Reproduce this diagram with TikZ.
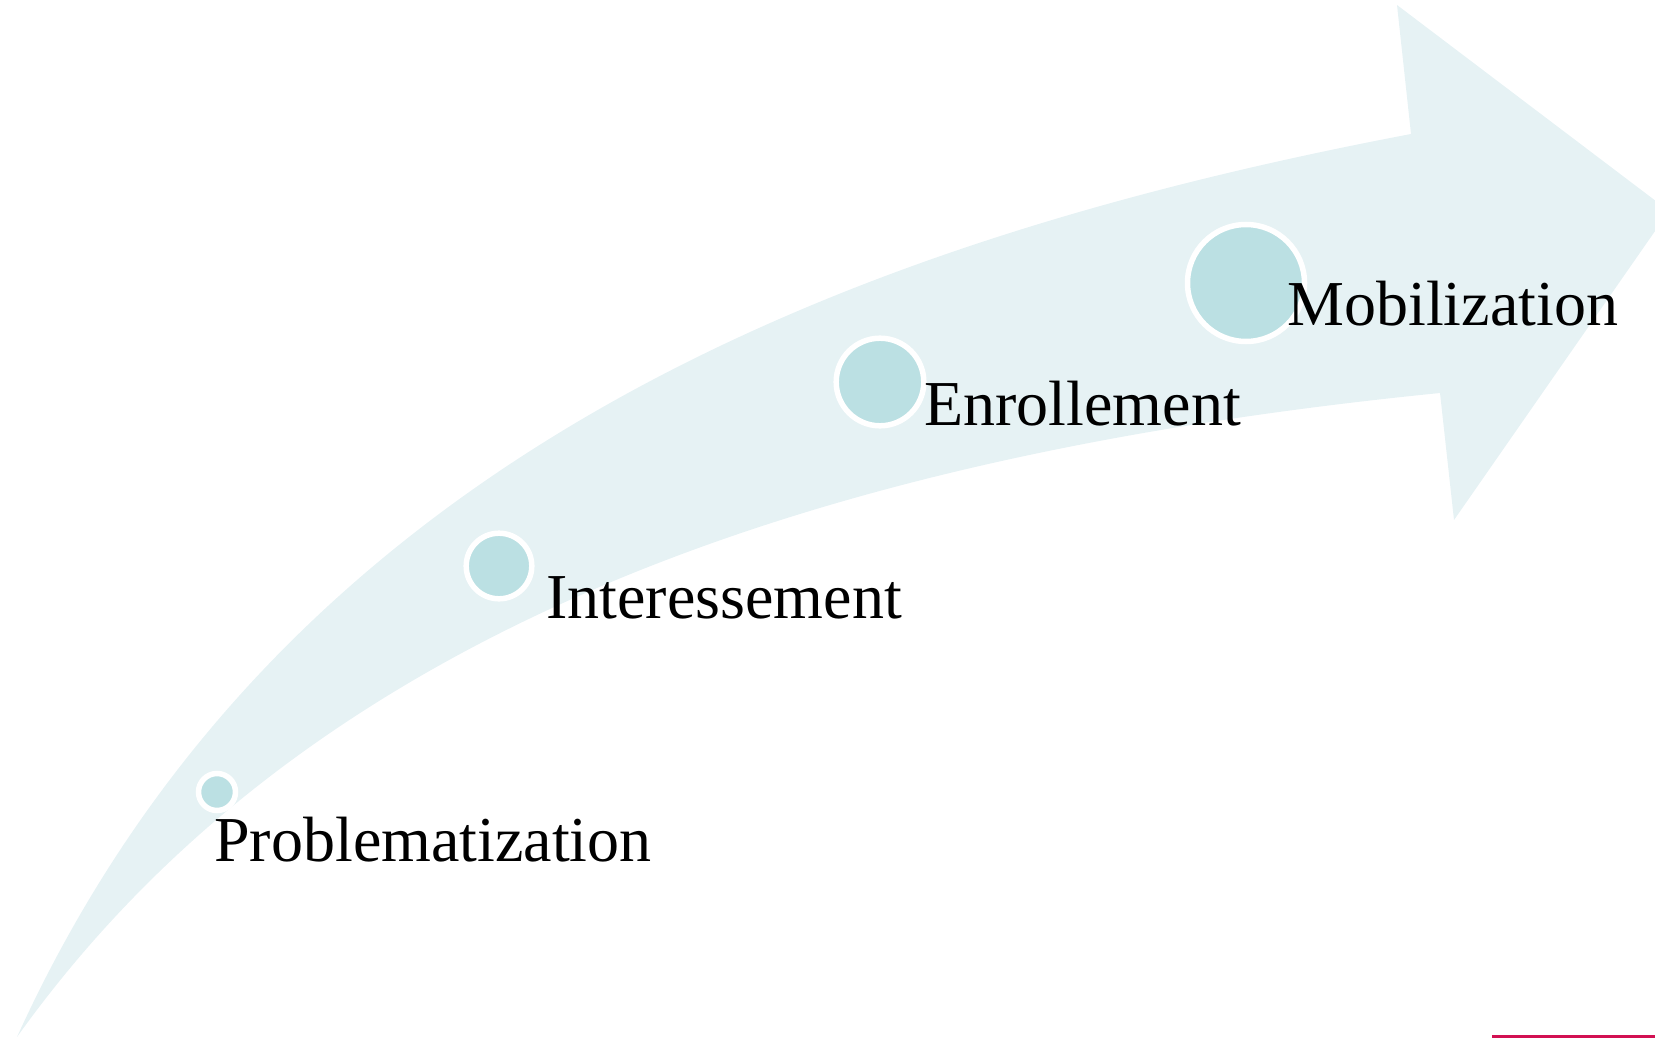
\documentclass[tikz,border=0pt]{standalone}
\usepackage{fontspec}
\setmainfont{Liberation Serif}
\definecolor{arrowfill}{RGB}{230,242,244}
\definecolor{dotfill}{RGB}{187,224,227}
\definecolor{accent}{RGB}{210,16,82}
\begin{document}
\begin{tikzpicture}[x=0.5pt,y=-0.5pt,
  dot/.style={circle, fill=dotfill, draw=white, line width=2.75pt, inner sep=0pt},
  steplabel/.style={anchor=base west, inner sep=0pt, font=\fontsize{32}{38}\selectfont}]
\useasboundingbox (0,0) rectangle (1655,1038);
\begin{scope}
\clip (0,0) rectangle (1655,1038);
\fill[arrowfill] (17,1037) .. controls (282,454) and (851,240.4) .. (1411,134)
  -- (1397,5) -- (1669,211) -- (1454,520) -- (1440,393)
  .. controls (840,453) and (317,617) .. (17,1037) -- cycle;
\draw[accent, line width=1.5pt] (1492,1036.5) -- (1660,1036.5);
\end{scope}
\node[dot, minimum size=18.5pt] (cP) at (217,792) {};
\node[dot, minimum size=32.8pt] (cI) at (499,566) {};
\node[dot, minimum size=43.8pt] (cE) at (880,382) {};
\node[dot, minimum size=58.5pt] (cM) at (1246,283) {};
\node[steplabel] (tP) at (214,861) {Problematization};
\node[steplabel] (tI) at (546,618) {Interessement};
\node[steplabel] (tE) at (924,425) {Enrollement};
\node[steplabel] (tM) at (1287,325) {Mobilization};
\end{tikzpicture}
\end{document}
